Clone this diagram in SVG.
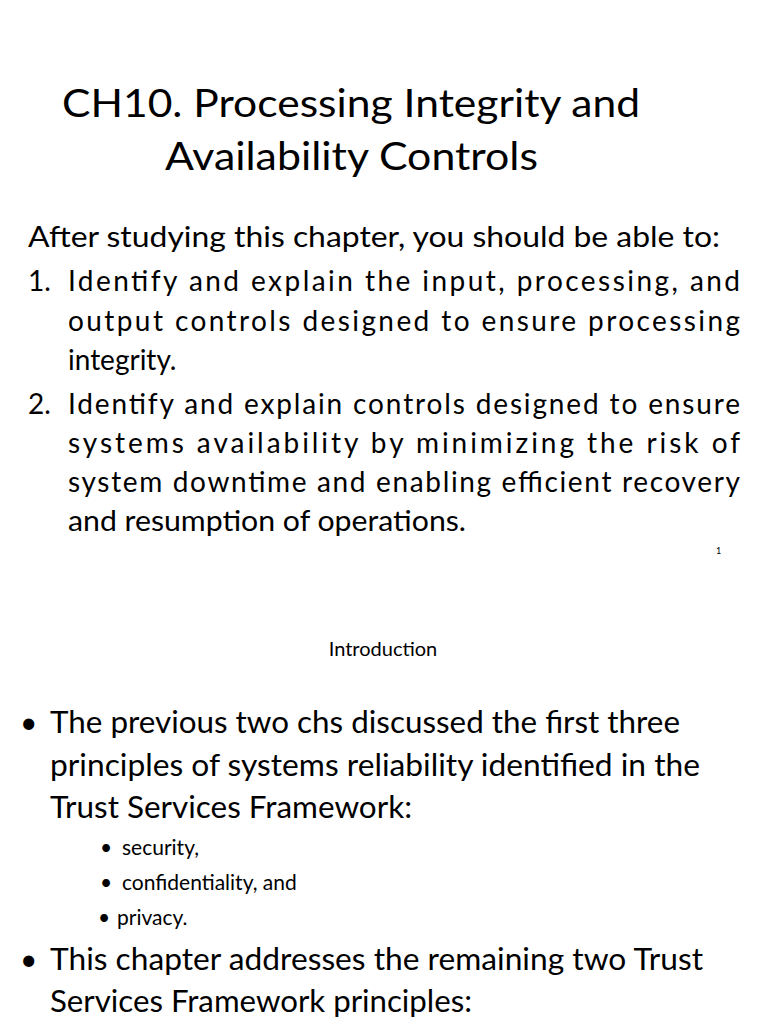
<svg xmlns="http://www.w3.org/2000/svg" width="768" height="1024" viewBox="0 0 768 1024">
<style>
text{font-family:Lato,"Open Sans","Liberation Sans",sans-serif;fill:#000}
.t{font-size:38px}
.b{font-size:28px}
.l{font-size:30px}
.s{font-size:21px}
</style>
<rect width="768" height="1024" fill="#fff"/>
<g id="title">
<text class="t" x="62" y="117" textLength="578" lengthAdjust="spacingAndGlyphs">CH10. Processing Integrity and</text>
<text class="t" x="165" y="170" textLength="373" lengthAdjust="spacingAndGlyphs">Availability Controls</text>
</g>
<g id="objectives" class="b">
<text class="b" x="28" y="247" textLength="692" lengthAdjust="spacingAndGlyphs">After studying this chapter, you should be able to:</text>
<text class="b" x="28" y="291">1.</text>
<text class="b" x="68" y="291" textLength="672" lengthAdjust="spacing">Identify and explain the input, processing, and</text>
<text class="b" x="68" y="331" textLength="672" lengthAdjust="spacing">output controls designed to ensure processing</text>
<text class="b" x="68" y="370">integrity.</text>
<text class="b" x="28" y="414">2.</text>
<text class="b" x="68" y="414" textLength="672" lengthAdjust="spacing">Identify and explain controls designed to ensure</text>
<text class="b" x="68" y="453" textLength="672" lengthAdjust="spacing">systems availability by minimizing the risk of</text>
<text class="b" x="68" y="492" textLength="672" lengthAdjust="spacing">system downtime and enabling efficient recovery</text>
<text class="b" x="68" y="531" textLength="398" lengthAdjust="spacingAndGlyphs">and resumption of operations.</text>
<text x="716" y="554" font-size="9" fill="#888">1</text>
</g>
<g id="intro">
<text x="383" y="656" font-size="20" text-anchor="middle">Introduction</text>
<text class="l" x="20" y="733">•</text>
<text class="l" x="50" y="733" textLength="630" lengthAdjust="spacingAndGlyphs">The previous two chs discussed the first three</text>
<text class="l" x="50" y="776" textLength="650" lengthAdjust="spacingAndGlyphs">principles of systems reliability identified in the</text>
<text class="l" x="50" y="818" textLength="362" lengthAdjust="spacingAndGlyphs">Trust Services Framework:</text>
<text class="s" x="100" y="855">•</text>
<text class="s" x="122" y="855">security,</text>
<text class="s" x="100" y="890">•</text>
<text class="s" x="122" y="890">confidentiality, and</text>
<text class="s" x="98" y="925">•</text>
<text class="s" x="117" y="925">privacy.</text>
<text class="l" x="20" y="970">•</text>
<text class="l" x="50" y="970" textLength="653" lengthAdjust="spacingAndGlyphs">This chapter addresses the remaining two Trust</text>
<text class="l" x="50" y="1012" textLength="422" lengthAdjust="spacingAndGlyphs">Services Framework principles:</text>
</g>
</svg>
